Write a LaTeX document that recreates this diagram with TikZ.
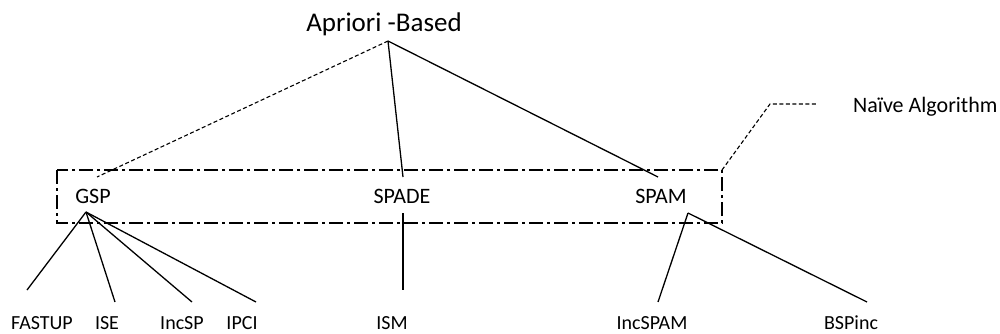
\documentclass[tikz,border=0pt]{standalone}
\usepackage{fontspec}
\setmainfont{Carlito}
\tikzstyle{every picture}+=[font=\fontsize{22}{26}\selectfont]
\tikzstyle{lbl}=[anchor=base, inner sep=0pt]
\tikzstyle{leaf}=[lbl, font=\fontsize{20}{24}\selectfont]
\tikzstyle{link}=[line width=1.3pt]
\tikzstyle{dashlink}=[line width=1.1pt, dash pattern=on 4pt off 2.5pt]
\tikzstyle{groupbox}=[line width=1.1pt, dash pattern=on 14pt off 4pt on 3pt off 4pt]

\begin{document}
\begin{tikzpicture}[x=1pt, y=-1pt]
\useasboundingbox (0,0) rectangle (1000,334);

%% Root
\node[lbl, font=\fontsize{27}{32}\selectfont] (apriori) at (384,32) {Apriori -Based};
\coordinate (apex) at (388,41);

%% Middle level
\node[lbl] (gsp)   at (93,203)  {GSP};
\node[lbl] (spade) at (402,203) {SPADE};
\node[lbl] (spam)  at (661,203) {SPAM};

\coordinate (gsptop)   at (97,177);
\coordinate (spadetop) at (403,177);
\coordinate (spamtop)  at (658,177);
\coordinate (gspbot)   at (86,212);
\coordinate (spadebot) at (403,213);
\coordinate (spambot)  at (688,213);

\draw[dashlink] (apex) -- (gsptop);
\draw[link] (apex) -- (spadetop);
\draw[link] (apex) -- (spamtop);

%% Box round the naive algorithms
\draw[groupbox] (57,170) rectangle (722,223);
\coordinate (boxcorner) at (722,170);
\coordinate (bend) at (770,104);
\coordinate (tagend) at (818,104);
\node[lbl, anchor=base west] (naive) at (853,113) {Naïve Algorithm};
\draw[dashlink] (boxcorner) -- (bend) -- (tagend);

%% Leaves
\node[leaf] (fastup)  at (42,329)  {FASTUP};
\node[leaf] (ise)     at (107,329) {ISE};
\node[leaf] (incsp)   at (182,329) {IncSP};
\node[leaf] (ipci)    at (242,329) {IPCI};
\node[leaf] (ism)     at (392,329) {ISM};
\node[leaf] (incspam) at (652,329) {IncSPAM};
\node[leaf] (bspinc)  at (851,329) {BSPinc};

\coordinate (fastuptop)  at (27,290);
\coordinate (isetop)     at (115,302);
\coordinate (incsptop)   at (192,302);
\coordinate (ipcitop)    at (256,302);
\coordinate (ismtop)     at (403,290);
\coordinate (incspamtop) at (658,302);
\coordinate (bspinctop)  at (867,302);

\foreach \leaf in {fastuptop,isetop,incsptop,ipcitop}
  \draw[link] (gspbot) -- (\leaf);
\draw[link] (spadebot) -- (ismtop);
\draw[link] (spambot) -- (incspamtop);
\draw[link] (spambot) -- (bspinctop);

\end{tikzpicture}
\end{document}
